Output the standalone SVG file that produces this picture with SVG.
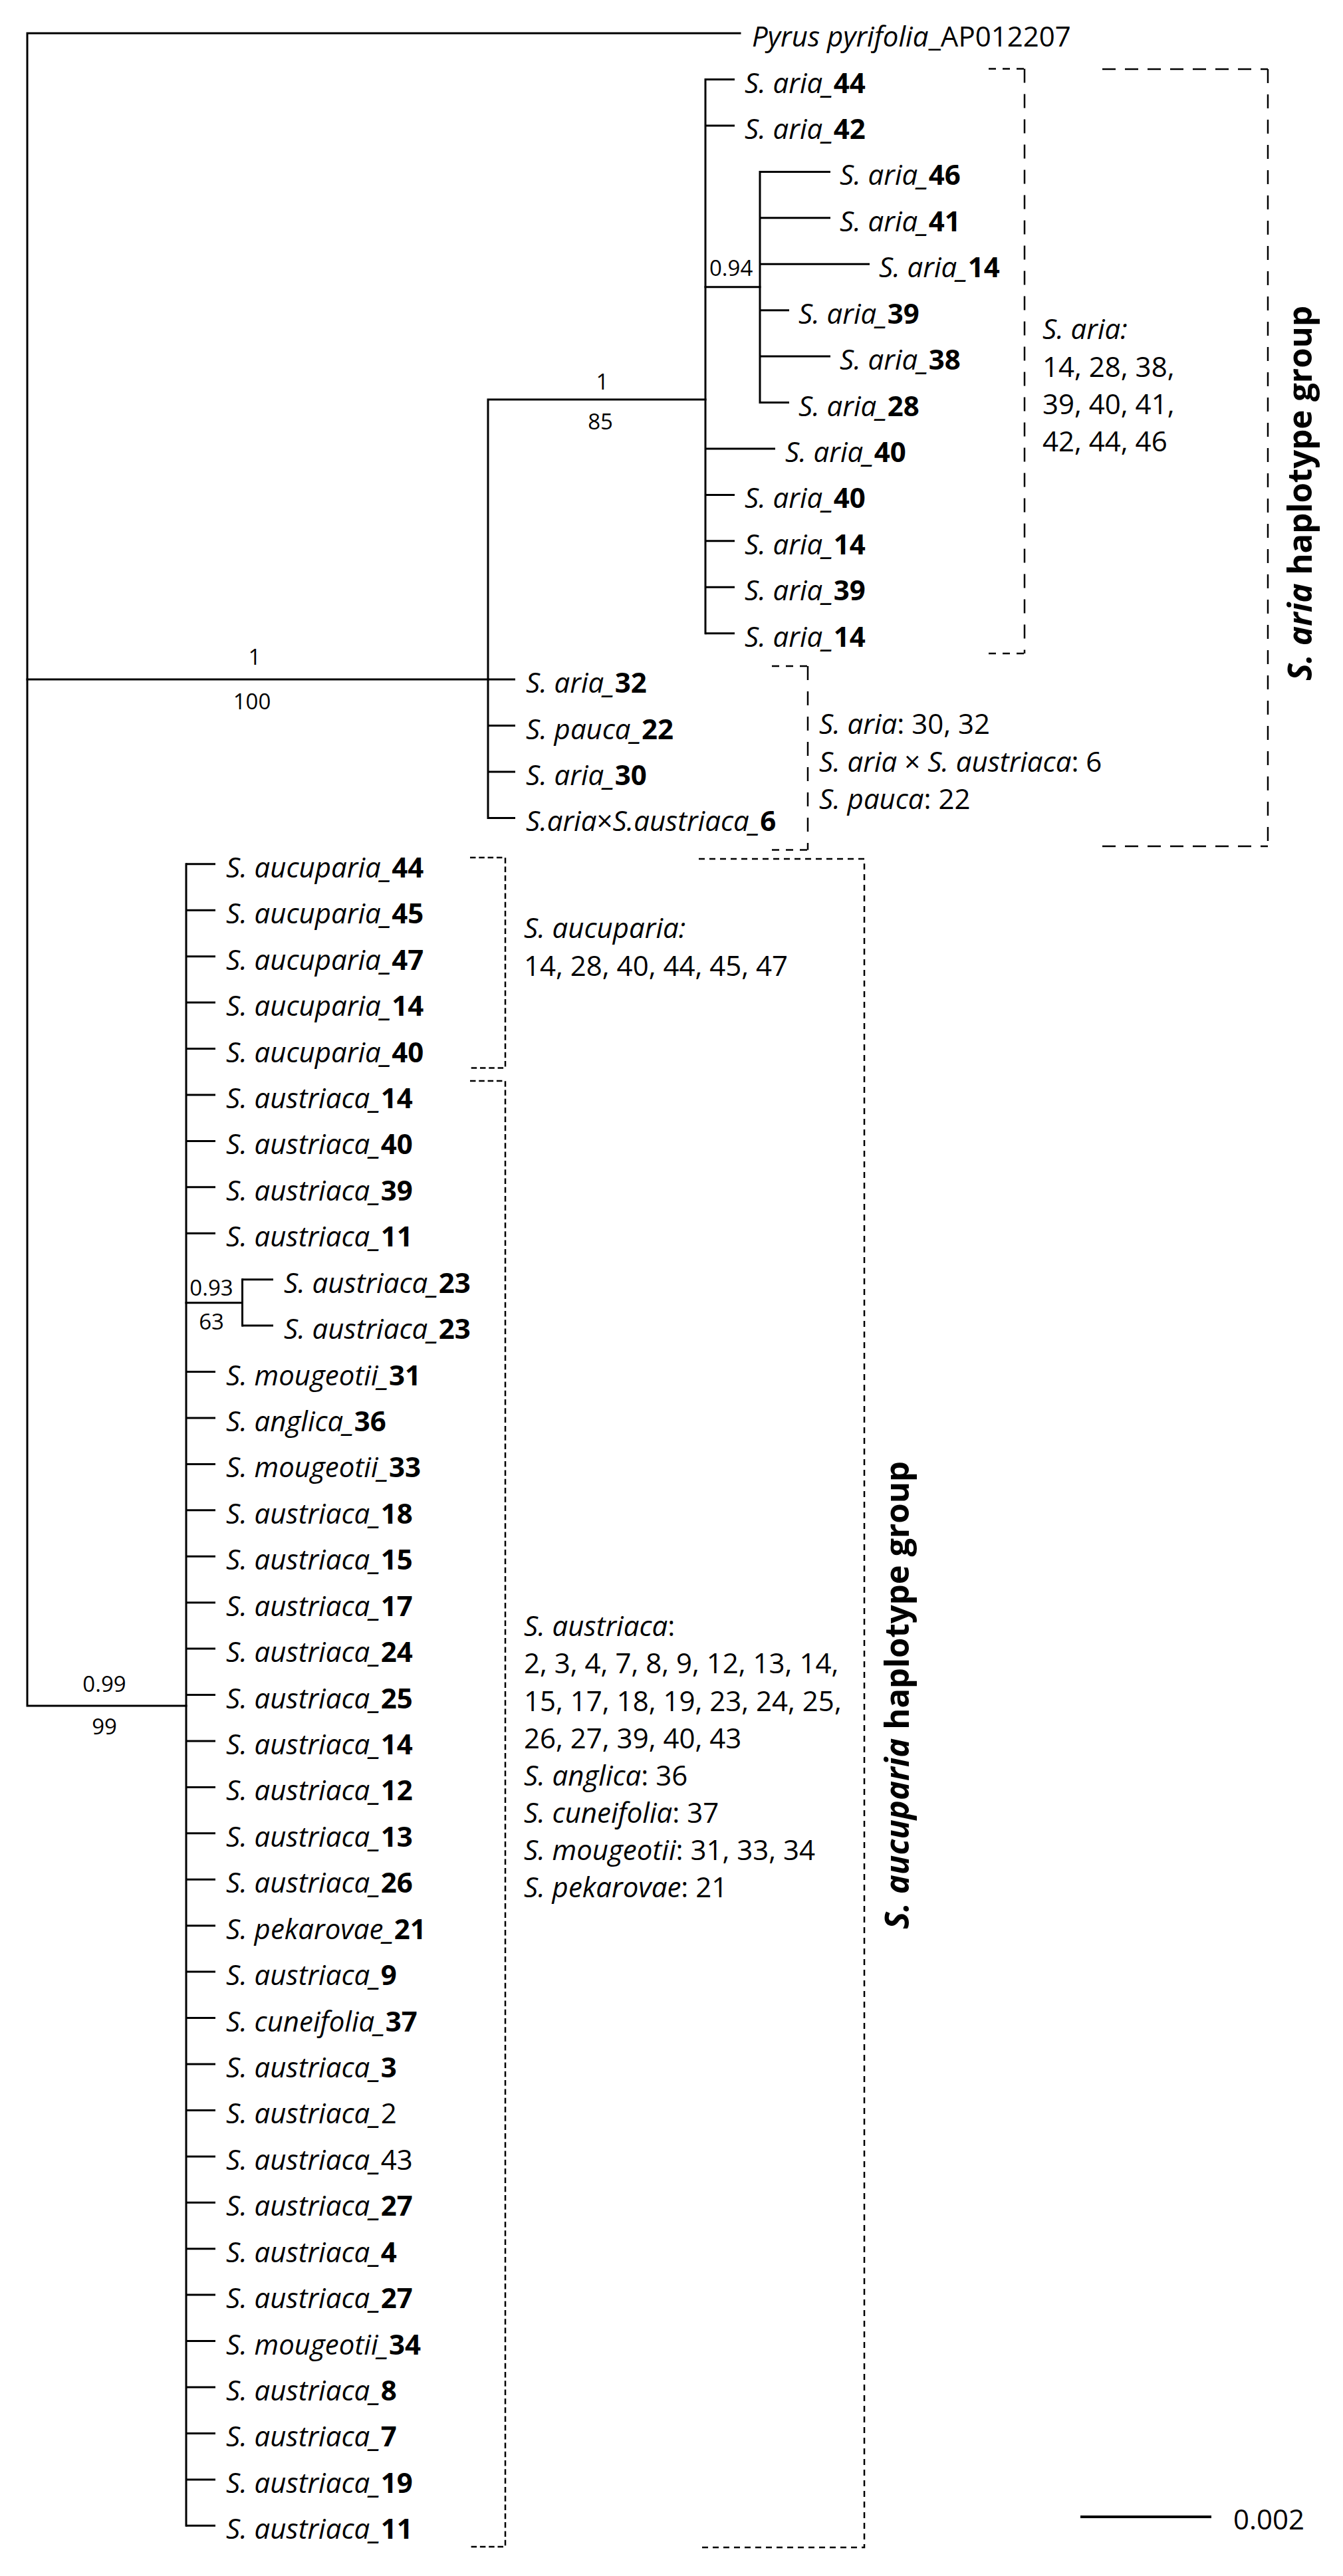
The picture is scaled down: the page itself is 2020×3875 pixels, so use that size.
<svg xmlns="http://www.w3.org/2000/svg" width="2020" height="3875" viewBox="0 0 2020 3875">
<style>
text { font-family: "Open Sans", "Liberation Sans", sans-serif; fill: #000; }
.tip { font-size: 42px; }
.blk { font-size: 42px; }
.sup { font-size: 33px; }
.grp { font-size: 50px; font-weight: bold; }
.i { font-style: italic; }
.b { font-weight: bold; }
.br { stroke: #000; stroke-width: 3; fill: none; stroke-linecap: square; stroke-linejoin: miter; }
.tk { stroke: #000; stroke-width: 3; fill: none; }
.dA { stroke: #000; stroke-width: 2.5; fill: none; stroke-dasharray: 11 10; }
.dAv { stroke: #000; stroke-width: 2.5; fill: none; stroke-dasharray: 21 17; }
.dB { stroke: #000; stroke-width: 2.5; fill: none; stroke-dasharray: 20 14; }
.dC { stroke: #000; stroke-width: 2.5; fill: none; stroke-dasharray: 8.5 4.8; }
.dD { stroke: #000; stroke-width: 2.5; fill: none; stroke-dasharray: 9 7; }
</style>
<rect width="2020" height="3875" fill="#fff"/>

<g id="connectors">
  <path class="br" d="M1113,50.1 H41 V2566 H280"/>
  <path class="br" d="M41,1022 H734"/>
  <path class="br" d="M1061,601 H734 V1230.4"/>
  <path class="br" d="M1061,119.5 V952.7"/>
  <path class="br" d="M1061,431.7 H1143"/>
  <path class="br" d="M1143,258.4 V605.5"/>
  <path class="br" d="M280,1299.8 V3799.3"/>
  <path class="br" d="M280,1959.7 H364.5"/>
  <path class="br" d="M364.5,1924.7 V1994.1"/>
  <g class="tk">
    <path d="M1061,119.5 H1105"/>
    <path d="M1061,188.9 H1105"/>
    <path d="M1143,258.4 H1249"/>
    <path d="M1143,327.8 H1249"/>
    <path d="M1143,397.2 H1308"/>
    <path d="M1143,466.7 H1187"/>
    <path d="M1143,536.1 H1249"/>
    <path d="M1143,605.5 H1187"/>
    <path d="M1061,674.9 H1166"/>
    <path d="M1061,744.4 H1105"/>
    <path d="M1061,813.8 H1105"/>
    <path d="M1061,883.2 H1105"/>
    <path d="M1061,952.7 H1105"/>
    <path d="M734,1022.1 H775"/>
    <path d="M734,1091.5 H775"/>
    <path d="M734,1161 H775"/>
    <path d="M734,1230.4 H775"/>
    <path d="M280,1299.8 H324"/>
    <path d="M280,1369.2 H324"/>
    <path d="M280,1438.7 H324"/>
    <path d="M280,1508.1 H324"/>
    <path d="M280,1577.5 H324"/>
    <path d="M280,1647 H324"/>
    <path d="M280,1716.4 H324"/>
    <path d="M280,1785.8 H324"/>
    <path d="M280,1855.3 H324"/>
    <path d="M364.5,1924.7 H411"/>
    <path d="M364.5,1994.1 H411"/>
    <path d="M280,2063.5 H324"/>
    <path d="M280,2133 H324"/>
    <path d="M280,2202.4 H324"/>
    <path d="M280,2271.8 H324"/>
    <path d="M280,2341.3 H324"/>
    <path d="M280,2410.7 H324"/>
    <path d="M280,2480.1 H324"/>
    <path d="M280,2549.6 H324"/>
    <path d="M280,2619 H324"/>
    <path d="M280,2688.4 H324"/>
    <path d="M280,2757.8 H324"/>
    <path d="M280,2827.3 H324"/>
    <path d="M280,2896.7 H324"/>
    <path d="M280,2966.1 H324"/>
    <path d="M280,3035.6 H324"/>
    <path d="M280,3105 H324"/>
    <path d="M280,3174.4 H324"/>
    <path d="M280,3243.9 H324"/>
    <path d="M280,3313.3 H324"/>
    <path d="M280,3382.7 H324"/>
    <path d="M280,3452.1 H324"/>
    <path d="M280,3521.6 H324"/>
    <path d="M280,3591 H324"/>
    <path d="M280,3660.4 H324"/>
    <path d="M280,3729.9 H324"/>
    <path d="M280,3799.3 H324"/>
  </g>
</g>

<g id="brackets">
  <path class="dA" d="M1487,103.5 H1541"/>
  <path class="dAv" d="M1541,103.5 V983"/>
  <path class="dA" d="M1487,983 H1541"/>
  <path class="dB" d="M1658,104 H1907"/>
  <path class="dAv" d="M1907,104 V1273"/>
  <path class="dB" d="M1658,1273 H1907"/>
  <path class="dA" d="M1161,1002 H1215"/>
  <path class="dAv" d="M1215,1002 V1278.5"/>
  <path class="dA" d="M1161,1278.5 H1215"/>
  <path class="dC" d="M707,1290 H760 V1606.5 H705"/>
  <path class="dC" d="M707,1626 H760 V3831 H706"/>
  <path class="dD" d="M1051,1292 H1300 V3832 H1050"/>
</g>

<g id="support">
  <text class="sup" x="383" y="1000" text-anchor="middle">1</text>
  <text class="sup" x="379" y="1067" text-anchor="middle">100</text>
  <text class="sup" x="906" y="586" text-anchor="middle">1</text>
  <text class="sup" x="903" y="646" text-anchor="middle">85</text>
  <text class="sup" x="1067" y="415">0.94</text>
  <text class="sup" x="318" y="1949" text-anchor="middle">0.93</text>
  <text class="sup" x="318" y="1999.5" text-anchor="middle">63</text>
  <text class="sup" x="157" y="2545" text-anchor="middle">0.99</text>
  <text class="sup" x="157" y="2609" text-anchor="middle">99</text>
</g>

<g id="tip-pyrus"><text class="tip" x="1131" y="70"><tspan class="i">Pyrus pyrifolia</tspan>_AP012207</text></g>

<g id="tips-aria">
  <g id="tip-0"><text class="tip" x="1120" y="139.5"><tspan class="i">S. aria_</tspan><tspan class="b">44</tspan></text></g>
  <g id="tip-1"><text class="tip" x="1120" y="208.9"><tspan class="i">S. aria_</tspan><tspan class="b">42</tspan></text></g>
  <g id="tip-2"><text class="tip" x="1263" y="278.4"><tspan class="i">S. aria_</tspan><tspan class="b">46</tspan></text></g>
  <g id="tip-3"><text class="tip" x="1263" y="347.8"><tspan class="i">S. aria_</tspan><tspan class="b">41</tspan></text></g>
  <g id="tip-4"><text class="tip" x="1322" y="417.2"><tspan class="i">S. aria_</tspan><tspan class="b">14</tspan></text></g>
  <g id="tip-5"><text class="tip" x="1201" y="486.7"><tspan class="i">S. aria_</tspan><tspan class="b">39</tspan></text></g>
  <g id="tip-6"><text class="tip" x="1263" y="556.1"><tspan class="i">S. aria_</tspan><tspan class="b">38</tspan></text></g>
  <g id="tip-7"><text class="tip" x="1201" y="625.5"><tspan class="i">S. aria_</tspan><tspan class="b">28</tspan></text></g>
  <g id="tip-8"><text class="tip" x="1181" y="694.9"><tspan class="i">S. aria_</tspan><tspan class="b">40</tspan></text></g>
  <g id="tip-9"><text class="tip" x="1120" y="764.4"><tspan class="i">S. aria_</tspan><tspan class="b">40</tspan></text></g>
  <g id="tip-10"><text class="tip" x="1120" y="833.8"><tspan class="i">S. aria_</tspan><tspan class="b">14</tspan></text></g>
  <g id="tip-11"><text class="tip" x="1120" y="903.2"><tspan class="i">S. aria_</tspan><tspan class="b">39</tspan></text></g>
  <g id="tip-12"><text class="tip" x="1120" y="972.7"><tspan class="i">S. aria_</tspan><tspan class="b">14</tspan></text></g>
  <g id="tip-13"><text class="tip" x="791" y="1042.1"><tspan class="i">S. aria_</tspan><tspan class="b">32</tspan></text></g>
  <g id="tip-14"><text class="tip" x="791" y="1111.5"><tspan class="i">S. pauca_</tspan><tspan class="b">22</tspan></text></g>
  <g id="tip-15"><text class="tip" x="791" y="1181"><tspan class="i">S. aria_</tspan><tspan class="b">30</tspan></text></g>
  <g id="tip-16"><text class="tip" x="791" y="1250.4"><tspan class="i">S.aria</tspan>×<tspan class="i">S.austriaca_</tspan><tspan class="b">6</tspan></text></g>
</g>

<g id="tips-aucuparia">
  <g id="tip-17"><text class="tip" x="340" y="1319.8"><tspan class="i">S. aucuparia_</tspan><tspan class="b">44</tspan></text></g>
  <g id="tip-18"><text class="tip" x="340" y="1389.2"><tspan class="i">S. aucuparia_</tspan><tspan class="b">45</tspan></text></g>
  <g id="tip-19"><text class="tip" x="340" y="1458.7"><tspan class="i">S. aucuparia_</tspan><tspan class="b">47</tspan></text></g>
  <g id="tip-20"><text class="tip" x="340" y="1528.1"><tspan class="i">S. aucuparia_</tspan><tspan class="b">14</tspan></text></g>
  <g id="tip-21"><text class="tip" x="340" y="1597.5"><tspan class="i">S. aucuparia_</tspan><tspan class="b">40</tspan></text></g>
  <g id="tip-22"><text class="tip" x="340" y="1667"><tspan class="i">S. austriaca_</tspan><tspan class="b">14</tspan></text></g>
  <g id="tip-23"><text class="tip" x="340" y="1736.4"><tspan class="i">S. austriaca_</tspan><tspan class="b">40</tspan></text></g>
  <g id="tip-24"><text class="tip" x="340" y="1805.8"><tspan class="i">S. austriaca_</tspan><tspan class="b">39</tspan></text></g>
  <g id="tip-25"><text class="tip" x="340" y="1875.3"><tspan class="i">S. austriaca_</tspan><tspan class="b">11</tspan></text></g>
  <g id="tip-26"><text class="tip" x="427" y="1944.7"><tspan class="i">S. austriaca_</tspan><tspan class="b">23</tspan></text></g>
  <g id="tip-27"><text class="tip" x="427" y="2014.1"><tspan class="i">S. austriaca_</tspan><tspan class="b">23</tspan></text></g>
  <g id="tip-28"><text class="tip" x="340" y="2083.5"><tspan class="i">S. mougeotii_</tspan><tspan class="b">31</tspan></text></g>
  <g id="tip-29"><text class="tip" x="340" y="2153"><tspan class="i">S. anglica_</tspan><tspan class="b">36</tspan></text></g>
  <g id="tip-30"><text class="tip" x="340" y="2222.4"><tspan class="i">S. mougeotii_</tspan><tspan class="b">33</tspan></text></g>
  <g id="tip-31"><text class="tip" x="340" y="2291.8"><tspan class="i">S. austriaca_</tspan><tspan class="b">18</tspan></text></g>
  <g id="tip-32"><text class="tip" x="340" y="2361.3"><tspan class="i">S. austriaca_</tspan><tspan class="b">15</tspan></text></g>
  <g id="tip-33"><text class="tip" x="340" y="2430.7"><tspan class="i">S. austriaca_</tspan><tspan class="b">17</tspan></text></g>
  <g id="tip-34"><text class="tip" x="340" y="2500.1"><tspan class="i">S. austriaca_</tspan><tspan class="b">24</tspan></text></g>
  <g id="tip-35"><text class="tip" x="340" y="2569.6"><tspan class="i">S. austriaca_</tspan><tspan class="b">25</tspan></text></g>
  <g id="tip-36"><text class="tip" x="340" y="2639"><tspan class="i">S. austriaca_</tspan><tspan class="b">14</tspan></text></g>
  <g id="tip-37"><text class="tip" x="340" y="2708.4"><tspan class="i">S. austriaca_</tspan><tspan class="b">12</tspan></text></g>
  <g id="tip-38"><text class="tip" x="340" y="2777.8"><tspan class="i">S. austriaca_</tspan><tspan class="b">13</tspan></text></g>
  <g id="tip-39"><text class="tip" x="340" y="2847.3"><tspan class="i">S. austriaca_</tspan><tspan class="b">26</tspan></text></g>
  <g id="tip-40"><text class="tip" x="340" y="2916.7"><tspan class="i">S. pekarovae_</tspan><tspan class="b">21</tspan></text></g>
  <g id="tip-41"><text class="tip" x="340" y="2986.1"><tspan class="i">S. austriaca_</tspan><tspan class="b">9</tspan></text></g>
  <g id="tip-42"><text class="tip" x="340" y="3055.6"><tspan class="i">S. cuneifolia_</tspan><tspan class="b">37</tspan></text></g>
  <g id="tip-43"><text class="tip" x="340" y="3125"><tspan class="i">S. austriaca_</tspan><tspan class="b">3</tspan></text></g>
  <g id="tip-44"><text class="tip" x="340" y="3194.4"><tspan class="i">S. austriaca_</tspan>2</text></g>
  <g id="tip-45"><text class="tip" x="340" y="3263.9"><tspan class="i">S. austriaca_</tspan>43</text></g>
  <g id="tip-46"><text class="tip" x="340" y="3333.3"><tspan class="i">S. austriaca_</tspan><tspan class="b">27</tspan></text></g>
  <g id="tip-47"><text class="tip" x="340" y="3402.7"><tspan class="i">S. austriaca_</tspan><tspan class="b">4</tspan></text></g>
  <g id="tip-48"><text class="tip" x="340" y="3472.1"><tspan class="i">S. austriaca_</tspan><tspan class="b">27</tspan></text></g>
  <g id="tip-49"><text class="tip" x="340" y="3541.6"><tspan class="i">S. mougeotii_</tspan><tspan class="b">34</tspan></text></g>
  <g id="tip-50"><text class="tip" x="340" y="3611"><tspan class="i">S. austriaca_</tspan><tspan class="b">8</tspan></text></g>
  <g id="tip-51"><text class="tip" x="340" y="3680.4"><tspan class="i">S. austriaca_</tspan><tspan class="b">7</tspan></text></g>
  <g id="tip-52"><text class="tip" x="340" y="3749.9"><tspan class="i">S. austriaca_</tspan><tspan class="b">19</tspan></text></g>
  <g id="tip-53"><text class="tip" x="340" y="3819.3"><tspan class="i">S. austriaca_</tspan><tspan class="b">11</tspan></text></g>
</g>

<g id="note-aria">
  <text class="blk" x="1568" y="510"><tspan class="i">S. aria:</tspan></text>
  <text class="blk" x="1568" y="566.5">14, 28, 38,</text>
  <text class="blk" x="1568" y="623">39, 40, 41,</text>
  <text class="blk" x="1568" y="679">42, 44, 46</text>
</g>
<g id="note-aria2">
  <text class="blk" x="1232" y="1104"><tspan class="i">S. aria</tspan>: 30, 32</text>
  <text class="blk" x="1232" y="1160.5"><tspan class="i">S. aria</tspan> × <tspan class="i">S. austriaca</tspan>: 6</text>
  <text class="blk" x="1232" y="1217"><tspan class="i">S. pauca</tspan>: 22</text>
</g>
<g id="note-aucuparia">
  <text class="blk" x="788" y="1411"><tspan class="i">S. aucuparia:</tspan></text>
  <text class="blk" x="788" y="1467.5">14, 28, 40, 44, 45, 47</text>
</g>
<g id="note-austriaca">
  <text class="blk" x="788" y="2461"><tspan class="i">S. austriaca</tspan>:</text>
  <text class="blk" x="788" y="2517">2, 3, 4, 7, 8, 9, 12, 13, 14,</text>
  <text class="blk" x="788" y="2573.5">15, 17, 18, 19, 23, 24, 25,</text>
  <text class="blk" x="788" y="2629.6">26, 27, 39, 40, 43</text>
  <text class="blk" x="788" y="2685.7"><tspan class="i">S. anglica</tspan>: 36</text>
  <text class="blk" x="788" y="2741.8"><tspan class="i">S. cuneifolia</tspan>: 37</text>
  <text class="blk" x="788" y="2798"><tspan class="i">S. mougeotii</tspan>: 31, 33, 34</text>
  <text class="blk" x="788" y="2854"><tspan class="i">S. pekarovae</tspan>: 21</text>
</g>

<g id="group-aria">
  <text class="grp" transform="translate(1973,742) rotate(-90)" text-anchor="middle" textLength="564" lengthAdjust="spacingAndGlyphs"><tspan class="i">S. aria</tspan> haplotype group</text>
</g>
<g id="group-aucuparia">
  <text class="grp" transform="translate(1367,2550) rotate(-90)" text-anchor="middle" textLength="704" lengthAdjust="spacingAndGlyphs"><tspan class="i">S. aucuparia</tspan> haplotype group</text>
</g>

<g id="scale-bar">
  <path d="M1625,3786 H1822" stroke="#000" stroke-width="4"/>
  <text class="blk" x="1855" y="3805">0.002</text>
</g>
</svg>
